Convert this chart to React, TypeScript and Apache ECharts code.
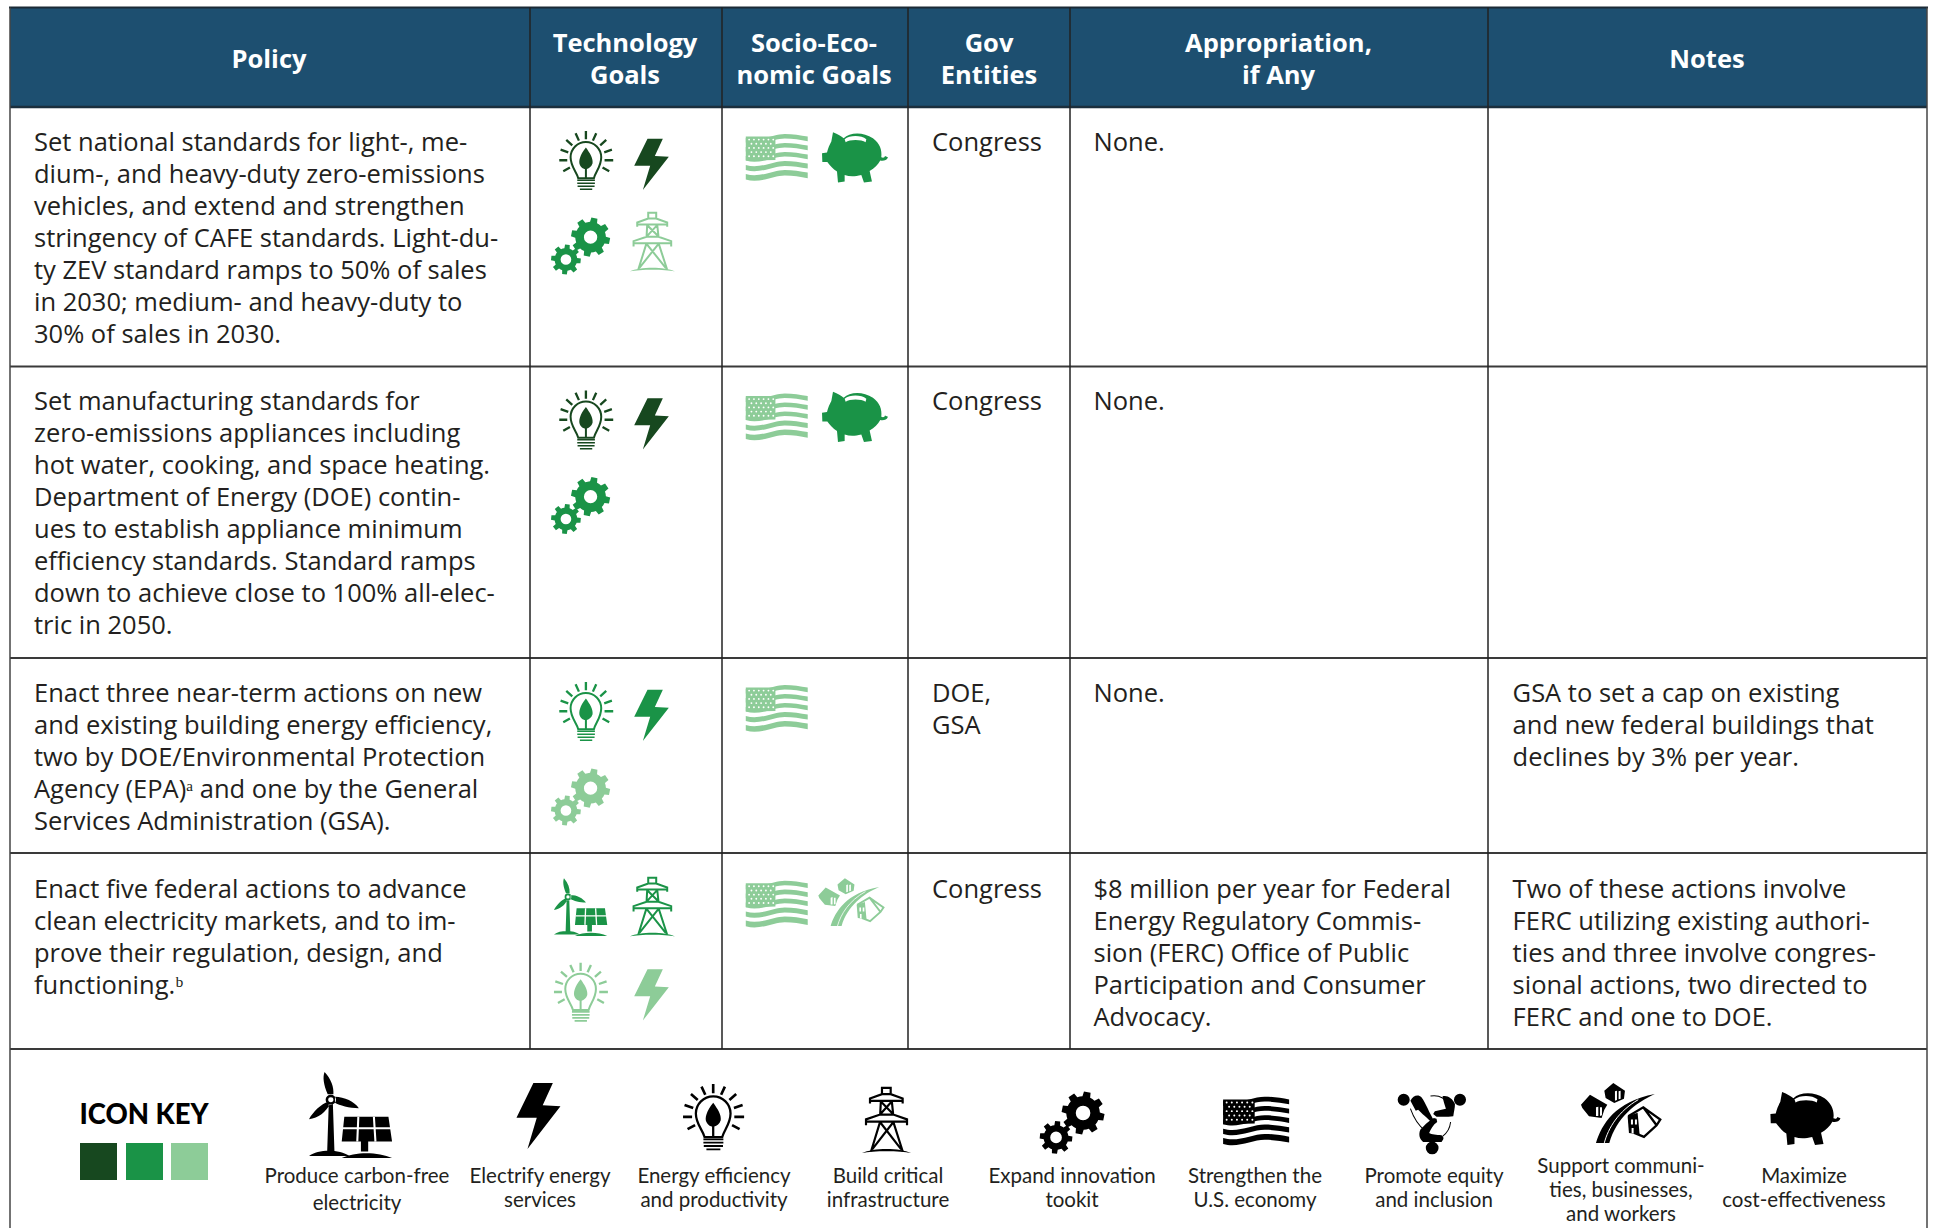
import React, { useEffect, useRef } from "react";
import * as echarts from "echarts";

// ---------- data ----------
const HEADERS = [["Policy"], ["Technology", "Goals"], ["Socio-Eco-", "nomic Goals"], ["Gov", "Entities"], ["Appropriation,", "if Any"], ["Notes"]];
const POLICY = [
  ["Set national standards for light-, me-", "dium-, and heavy-duty zero-emissions", "vehicles, and extend and strengthen", "stringency of CAFE standards. Light-du-", "ty ZEV standard ramps to 50% of sales", "in 2030; medium- and heavy-duty to", "30% of sales in 2030."],
  ["Set manufacturing standards for", "zero-emissions appliances including", "hot water, cooking, and space heating.", "Department of Energy (DOE) contin-", "ues to establish appliance minimum", "efficiency standards. Standard ramps", "down to achieve close to 100% all-elec-", "tric in 2050."],
  ["Enact three near-term actions on new", "and existing building energy efficiency,", "two by DOE/Environmental Protection", "Agency (EPA)ᵃ and one by the General", "Services Administration (GSA)."],
  ["Enact five federal actions to advance", "clean electricity markets, and to im-", "prove their regulation, design, and", "functioning.ᵇ"],
];
const ENTITIES = [["Congress"], ["Congress"], ["DOE,", "GSA"], ["Congress"]];
const APPROPRIATION = [["None."], ["None."], ["None."], ["$8 million per year for Federal", "Energy Regulatory Commis-", "sion (FERC) Office of Public", "Participation and Consumer", "Advocacy."]];
const NOTES = [[], [], ["GSA to set a cap on existing", "and new federal buildings that", "declines by 3% per year."], ["Two of these actions involve", "FERC utilizing existing authori-", "ties and three involve congres-", "sional actions, two directed to", "FERC and one to DOE."]];
const TECH_ICONS = [
  [["bulb", "dark"], ["bolt", "dark"], ["gears", "mid"], ["tower", "light"]],
  [["bulb", "dark"], ["bolt", "dark"], ["gears", "mid"]],
  [["bulb", "mid"], ["bolt", "mid"], ["gears", "light"]],
  [["turbine", "mid"], ["tower", "mid"], ["bulb", "light"], ["bolt", "light"]],
];
const SOCIO_ICONS = [
  [["flag", "light"], ["piggy", "mid"]],
  [["flag", "light"], ["piggy", "mid"]],
  [["flag", "light"]],
  [["flag", "light"], ["houses", "light"]],
];
const KEY_TITLE = "ICON KEY";
const KEY_ITEMS = [
  { icon: "turbine", label: ["Produce carbon-free", "electricity"] },
  { icon: "bolt", label: ["Electrify energy", "services"] },
  { icon: "bulb", label: ["Energy efficiency", "and productivity"] },
  { icon: "tower", label: ["Build critical", "infrastructure"] },
  { icon: "gears", label: ["Expand innovation", "tookit"] },
  { icon: "flag", label: ["Strengthen the", "U.S. economy"] },
  { icon: "equity", label: ["Promote equity", "and inclusion"] },
  { icon: "houses", label: ["Support communi-", "ties, businesses,", "and workers"] },
  { icon: "piggy", label: ["Maximize", "cost-effectiveness"] },
];

// ---------- styles & layout ----------
const SHADES: Record<string, string> = { dark: "#17481f", mid: "#1a9347", light: "#8dcc98", black: "#000000" };
const HEADER_BG = "#1d4f70";
const INK = "#231f20";
const BODY_FONT = "Open Sans";
const KEY_FONT = "Lato";
const COLS = [10, 530, 722, 908, 1070, 1488, 1927];
const ROWS = [107, 366.5, 658, 853, 1049];
const TOP = 7.5;
const PAGE_H = 1228;
const HEADER_X = [269, 625, 814, 989, 1278.5, 1707];
const TEXT_X = [34, 932, 1093.5, 1512.6];
const TEXT_DY = [34, 33.5, 34, 35];
const LINE_H = 32;
const TECH_SLOTS = [[559.3, 131], [634.3, 138.7], [551.3, 217.3], [630, 212.3]];
const SOCIO_SLOTS = [[746, 133.3], [822.3, 132.3]];
const ROW_DY = [0, 259.5, 551, 746];
const ROW4_TECH = [[554, 878.3], [630, 877.3], [554, 962.7], [634.3, 969.3]];
const ROW4_SOCIO = [[746, 880], [818.3, 878.3, 65.7, 47.7]];
const KEY_BOXES = [
  [309, 1072, 83, 86], [516.5, 1083, 44, 66], [683, 1084, 61, 67], [862, 1087, 49, 66], [1040, 1091, 65, 62],
  [1223, 1096, 66, 48], [1397, 1093, 69, 61], [1581, 1083, 80, 60], [1770, 1092, 70, 53],
];
const KEY_LABEL_X = [357, 540, 714, 888, 1072, 1255, 1434, 1621, 1804];
const SWATCH_X = [80, 126, 171];

// ---------- icons ----------
type Part = { d: string; k: "fill" | "stroke" | "knock" | "knockStroke"; w?: number };
const circle = (cx: number, cy: number, r: number) =>
  `M${cx - r} ${cy}A${r} ${r} 0 1 0 ${cx + r} ${cy}A${r} ${r} 0 1 0 ${cx - r} ${cy}Z`;
function gear(cx: number, cy: number, ro: number, ri: number, n: number, rot = 0) {
  let d = "";
  const step = (Math.PI * 2) / n;
  for (let i = 0; i < n; i++) {
    const a = rot + i * step;
    const pts = [[a - step * 0.5, ri], [a - step * 0.3, ri], [a - step * 0.2, ro], [a + step * 0.2, ro], [a + step * 0.3, ri]];
    pts.forEach(([t, r], j) => {
      const x = (cx + Math.cos(t) * r).toFixed(1);
      const y = (cy + Math.sin(t) * r).toFixed(1);
      d += `${i === 0 && j === 0 ? "M" : "L"}${x} ${y}`;
    });
  }
  return d + "Z";
}
function flagBand(y: number, h: number) {
  const top = `M648 ${y}C690 ${y + 13} 730 ${y - 12} 765 ${y - 12}C790 ${y - 12} 812 ${y - 8} 834 ${y - 4}`;
  const by = y + h;
  const bot = `L834 ${by - 4}C812 ${by - 8} 790 ${by - 12} 765 ${by - 12}C730 ${by - 12} 690 ${by + 13} 648 ${by}Z`;
  return top + bot;
}
function flagStars() {
  let d = "";
  for (let r = 0; r < 5; r++) {
    for (let c = 0; c < 6 - (r % 2); c++) {
      const x = 658 + c * 14.5 + (r % 2) * 7;
      const y = 117 + r * 12.5;
      d += circle(x, y, 2.8);
    }
  }
  return d;
}
const ICONS: Record<string, { box: number[]; parts: Part[] }> = {
  bulb: {
    box: [88, 93, 250, 272],
    parts: [
      { k: "stroke", w: 7, d: "M168 93L168 118M137 100L147 122M199 100L189 122M109 120L127 136M229 120L211 136M92 149L115 157M246 149L223 157M88 181L112 181M250 181L224 181M100 214L120 203M238 214L218 203" },
      { k: "stroke", w: 6, d: "M145 235C140 215 122 200 122 172A46 46 0 1 1 214 172C214 200 197 215 192 235Z" },
      { k: "fill", d: "M168 143C150 165 145 185 150 195C155 205 162 207 165 207L165 235L171 235L171 207C178 205 185 200 188 190C190 175 180 160 168 143Z" },
      { k: "stroke", w: 5, d: "M142 241L195 241M142 250L195 250M143 259L194 259M150 268L187 268" },
    ],
  },
  bolt: { box: [313, 116, 417, 270], parts: [{ k: "fill", d: "M353 116L399 116L375 168L417 170L339 270L361 197L313 197Z" }] },
  gears: {
    box: [64, 352, 242, 522],
    parts: [
      { k: "fill", d: gear(182, 412, 59, 46, 8, 0.2) + gear(108, 479, 45, 34, 8, 0.1) },
      { k: "knock", d: circle(182, 412, 20) + circle(108, 479, 16) },
    ],
  },
  tower: {
    box: [300, 337, 435, 515],
    parts: [
      { k: "stroke", w: 6, d: "M355 357L355 339L379 339L379 357M322 381L322 368L355 356L379 356L412 368L412 381M322 374L412 374M352 374L350 412M382 374L386 412M352 376L384 408M382 376L352 408M311 440L311 424L350 411L386 411L424 424L424 440M311 430L424 430M350 430L325 510M386 430L412 510M350 432L408 505M386 432L328 505" },
      { k: "fill", d: "M300 515C330 500 405 500 435 515C405 508 330 508 300 515Z" },
    ],
  },
  flag: {
    box: [648, 98, 834, 237],
    parts: [
      { k: "fill", d: flagBand(112, 14) + flagBand(139, 14) + flagBand(166, 14) + flagBand(193, 15) + flagBand(220, 17) },
      { k: "fill", d: "M648 108L737 108L737 178L648 180Z" },
      { k: "knock", d: flagStars() },
    ],
  },
  piggy: {
    box: [877, 97, 1075, 248],
    parts: [
      { k: "fill", d: "M905 125L910 97C925 102 935 110 942 115C960 97 1000 95 1030 115C1050 130 1058 150 1055 172C1062 175 1065 172 1066 168L1075 172C1072 182 1060 184 1052 182C1045 195 1035 205 1020 213L1027 245L1003 248L995 225C975 230 960 230 945 225L945 245L925 248L922 215C910 208 900 195 893 186L878 186L877 160L892 158C895 145 900 135 905 125Z" },
      { k: "knock", d: "M945 118C960 105 995 105 1010 118L1008 127C995 118 960 118 948 127Z" },
    ],
  },
  turbine: {
    box: [72, 85, 232, 258],
    parts: [
      { k: "fill", d: "M110 150L118 150L121 245L107 245ZM108 130C100 110 98 95 102 85C115 100 120 115 119 130ZM122 135C140 135 160 145 168 158C150 158 130 152 122 147ZM108 145C95 150 80 165 72 180C90 178 105 165 112 150ZM72 254C90 240 130 240 150 254Z" + circle(114, 141, 10) },
      { k: "knock", d: circle(114, 141, 5) },
      { k: "fill", d: "M140 175L225 175L232 225L135 225ZM172 225L186 225L186 245L172 245ZM135 258C160 245 205 245 232 258Z" },
      { k: "knockStroke", w: 4, d: "M167 175L165 225M197 175L200 225M137 198L230 198" },
    ],
  },
  houses: {
    box: [18, 25, 258, 205],
    parts: [
      { k: "fill", d: "M63 205C80 150 120 80 240 58C180 85 125 130 103 205Z" },
      { k: "knockStroke", w: 3, d: "M88 205C100 160 130 110 190 75" },
      { k: "fill", d: "M18 90L45 60L97 90L88 105L80 130L42 125L22 100ZM88 48L115 25L150 48L147 72L118 85L92 70Z" },
      { k: "knock", d: "M63 98L70 96L70 124L63 124ZM75 98L81 98L81 122L75 124ZM120 50L126 48L126 76L120 78ZM131 50L137 48L137 72L131 74Z" },
      { k: "stroke", w: 7, d: "M160 125L205 98L256 135L245 152L207 187L178 175M205 98L245 152" },
      { k: "fill", d: "M158 125L188 114L194 180L162 175Z" },
      { k: "knock", d: "M168 135L174 135L174 150L168 150ZM180 135L186 135L186 150L180 150ZM170 160L176 160L176 176L170 176Z" },
    ],
  },
  equity: {
    box: [22, 25, 228, 208],
    parts: [
      { k: "fill", d: circle(42, 45, 18) + circle(210, 45, 18) + circle(127, 190, 19) },
      { k: "fill", d: "M62 48C70 33 85 28 95 38C108 55 118 85 135 112L129 116C112 100 95 85 85 75L78 78C72 68 68 58 62 48Z" },
      { k: "fill", d: "M195 58C188 40 170 30 158 35C160 50 165 62 168 72L135 80L130 88L140 96C155 97 175 97 190 95C192 80 195 70 195 58Z" },
      { k: "fill", d: "M140 102L132 100C115 110 100 125 92 135C85 150 90 165 100 172L155 172C160 165 165 160 155 152C140 150 125 150 118 145C122 135 130 120 142 112Z" },
      { k: "stroke", w: 3, d: "M62 72C72 100 85 122 105 137M122 34C145 30 165 40 178 60M182 112C180 130 172 145 158 155" },
    ],
  },
};
Object.entries(ICONS).forEach(([name, icon]) => {
  icon.parts.forEach((p, i) => {
    echarts.graphic.registerShape(`icon_${name}_${i}`, echarts.graphic.extendPath(p.d, {}));
  });
});

function iconEls(name: string, color: string, x: number, y: number, w?: number, h?: number) {
  const icon = ICONS[name];
  const [x0, y0, x1, y1] = icon.box;
  const sx = w ? w / (x1 - x0) : 1 / 3;
  const sy = h ? h / (y1 - y0) : 1 / 3;
  return icon.parts.map((p, i) => {
    const style: any =
      p.k === "fill" ? { fill: color } :
      p.k === "knock" ? { fill: "#ffffff" } :
      p.k === "stroke" ? { fill: "none", stroke: color, lineWidth: p.w } :
      { fill: "none", stroke: "#ffffff", lineWidth: p.w };
    return { type: `icon_${name}_${i}`, x: x - x0 * sx, y: y - y0 * sy, scaleX: sx, scaleY: sy, style };
  });
}
const text = (t: string, x: number, y: number, size: number, opt: any = {}) => ({
  type: "text",
  x,
  y,
  style: {
    text: t,
    fill: opt.fill ?? INK,
    font: `${opt.weight ?? 400} ${size}px "${opt.family ?? BODY_FONT}"`,
    textAlign: opt.align ?? "left",
    textVerticalAlign: "middle",
  },
});
const vline = (x: number, y1: number, y2: number, color: string, w: number) => ({
  type: "line", shape: { x1: x, y1, x2: x, y2 }, style: { stroke: color, lineWidth: w },
});
const hline = (y: number, x1: number, x2: number, color: string, w: number) => ({
  type: "line", shape: { x1, y1: y, x2, y2: y }, style: { stroke: color, lineWidth: w },
});

function buildElements() {
  const els: any[] = [];
  els.push({ type: "rect", shape: { x: COLS[0], y: TOP, width: COLS[6] - COLS[0], height: ROWS[0] - TOP }, style: { fill: HEADER_BG } });
  // rules
  els.push(hline(TOP, COLS[0] - 1, COLS[6] + 1, "#1b2a36", 2));
  els.push(hline(ROWS[0], COLS[0], COLS[6], "#1b2f3d", 2.5));
  ROWS.slice(1).forEach((y) => els.push(hline(y, COLS[0], COLS[6], "#3a3a3a", 2)));
  els.push(vline(COLS[0], TOP, PAGE_H, "#444444", 1.5));
  els.push(vline(COLS[6], TOP, PAGE_H, "#444444", 1.5));
  COLS.slice(1, 6).forEach((x) => els.push(vline(x, TOP, ROWS[4], "#222222", 1.5)));
  // header
  HEADERS.forEach((lines, c) => {
    const ys = lines.length === 1 ? [57.5] : [41.5, 73.5];
    lines.forEach((l, i) => els.push(text(l, HEADER_X[c], ys[i], 25.5, { fill: "#ffffff", weight: 700, align: "center" })));
  });
  // body
  ROWS.slice(0, 4).forEach((top, r) => {
    [POLICY[r], ENTITIES[r], APPROPRIATION[r], NOTES[r]].forEach((lines, c) => {
      lines.forEach((l, i) => els.push(text(l, TEXT_X[c], top + TEXT_DY[r] + i * LINE_H, 25.5)));
    });
    const tech = r === 3 ? ROW4_TECH : TECH_SLOTS.map(([x, y]) => [x, y + ROW_DY[r]]);
    const socio: number[][] = r === 3 ? ROW4_SOCIO : SOCIO_SLOTS.map(([x, y]) => [x, y + ROW_DY[r]]);
    TECH_ICONS[r].forEach(([name, shade], i) => els.push(...iconEls(name, SHADES[shade], tech[i][0], tech[i][1])));
    SOCIO_ICONS[r].forEach(([name, shade], i) => els.push(...iconEls(name, SHADES[shade], socio[i][0], socio[i][1], socio[i][2], socio[i][3])));
  });
  // key
  els.push(text(KEY_TITLE, 144, 1113, 27.5, { weight: 900, align: "center", fill: "#000000", family: KEY_FONT }));
  ["dark", "mid", "light"].forEach((s, i) =>
    els.push({ type: "rect", shape: { x: SWATCH_X[i], y: 1143, width: 37, height: 37 }, style: { fill: SHADES[s] } })
  );
  KEY_ITEMS.forEach((item, i) => {
    const [x, y, w, h] = KEY_BOXES[i];
    els.push(...iconEls(item.icon, SHADES.black, x, y, w, h));
    const ys = item.label.length === 3 ? [1165, 1189, 1213] : i === 0 ? [1175, 1202] : [1175, 1199];
    item.label.forEach((l, j) => els.push(text(l, KEY_LABEL_X[i], ys[j], 20.5, { align: "center", family: KEY_FONT })));
  });
  return els;
}

export default function App() {
  const ref = useRef<HTMLDivElement>(null);
  useEffect(() => {
    const chart = echarts.init(ref.current!, undefined, { renderer: "svg" });
    chart.setOption({ animation: false, backgroundColor: "#ffffff", graphic: { elements: buildElements() } });
    return () => chart.dispose();
  }, []);
  return <div ref={ref} style={{ position: "fixed", left: 0, top: 0, width: 1933, height: 1228 }} />;
}
